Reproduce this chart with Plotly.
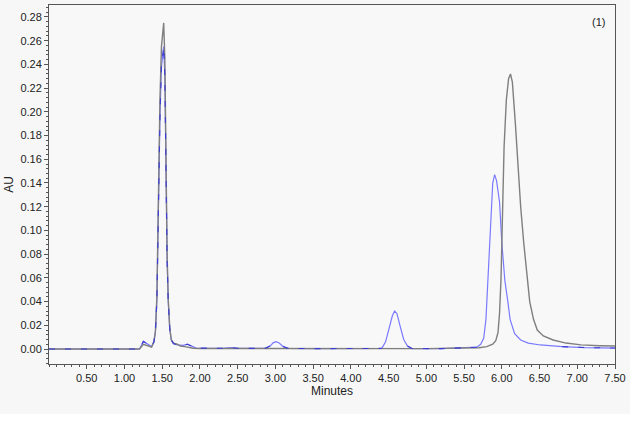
import numpy as np
import plotly.graph_objects as go

# grey trace (1st injection)
grey_t = [0.00, 1.20, 1.25, 1.30, 1.36, 1.39, 1.41, 1.43, 1.45, 1.47, 1.49, 1.51, 1.52,
          1.535, 1.55, 1.565, 1.58, 1.60, 1.62, 1.65, 1.70, 1.74, 1.80, 1.85, 1.91, 2.00,
          3.00, 4.00, 5.00, 5.70, 5.80, 5.88, 5.92, 5.95, 5.97, 5.99, 6.01, 6.03, 6.06,
          6.09, 6.115, 6.14, 6.18, 6.22, 6.25, 6.29, 6.33, 6.37, 6.42, 6.47, 6.55, 6.68,
          6.85, 7.05, 7.30, 7.50]
grey_v = [0.0000, 0.0000, 0.0040, 0.0030, 0.0015, 0.0060, 0.0150, 0.0450, 0.1300, 0.2100,
          0.2550, 0.2740, 0.2750, 0.2450, 0.1500, 0.0800, 0.0420, 0.0180, 0.0080, 0.0050,
          0.0040, 0.0025, 0.0020, 0.0015, 0.0006, 0.0004, 0.0004, 0.0003, 0.0003, 0.0010,
          0.0020, 0.0040, 0.0070, 0.0140, 0.0300, 0.0600, 0.1200, 0.1700, 0.2100, 0.2280,
          0.2320, 0.2250, 0.1900, 0.1500, 0.1200, 0.0900, 0.0630, 0.0400, 0.0250, 0.0160,
          0.0110, 0.0076, 0.0050, 0.0035, 0.0028, 0.0025]

# blue trace (2nd injection)
blue_t = [0.00, 1.20, 1.25, 1.30, 1.36, 1.39, 1.41, 1.43, 1.45, 1.47, 1.49, 1.51, 1.52,
          1.535, 1.55, 1.565, 1.58, 1.60, 1.62, 1.65, 1.70, 1.78, 1.834, 1.88, 1.95, 2.30,
          2.40, 2.50, 2.86, 2.93, 2.97, 3.007, 3.05, 3.10, 3.17, 3.50, 4.00, 4.41, 4.46,
          4.50, 4.55, 4.58, 4.61, 4.65, 4.70, 4.75, 4.81, 5.20, 5.60, 5.67, 5.72, 5.76,
          5.79, 5.81, 5.84, 5.862, 5.88, 5.905, 5.93, 5.95, 5.97, 6.00, 6.04, 6.08, 6.11,
          6.17, 6.25, 6.35, 6.51, 6.80, 7.10, 7.50]
blue_v = [0.0000, 0.0000, 0.0064, 0.0045, 0.0020, 0.0060, 0.0140, 0.0420, 0.1220, 0.1950,
          0.2380, 0.2540, 0.2550, 0.2300, 0.1420, 0.0760, 0.0400, 0.0170, 0.0075, 0.0045,
          0.0035, 0.0030, 0.0040, 0.0025, 0.0008, 0.0006, 0.0012, 0.0006, 0.0005, 0.0025,
          0.0052, 0.0062, 0.0050, 0.0022, 0.0005, 0.0003, 0.0003, 0.0005, 0.0060, 0.0160,
          0.0280, 0.0320, 0.0300, 0.0200, 0.0080, 0.0025, 0.0004, 0.0003, 0.0010, 0.0015,
          0.0040, 0.0090, 0.0250, 0.0500, 0.0950, 0.1260, 0.1400, 0.1470, 0.1420, 0.1330,
          0.1240, 0.0900, 0.0580, 0.0400, 0.0250, 0.0130, 0.0076, 0.0050, 0.0034, 0.0020,
          0.0012, 0.0008]

x_ticks = [0.5, 1.0, 1.5, 2.0, 2.5, 3.0, 3.5, 4.0, 4.5, 5.0, 5.5, 6.0, 6.5, 7.0, 7.5]
y_ticks = [0.00, 0.02, 0.04, 0.06, 0.08, 0.10, 0.12, 0.14, 0.16, 0.18, 0.20, 0.22, 0.24,
           0.26, 0.28]

# where the blue run lies under the grey one it shows only as dashes
grey_at_blue = np.interp(blue_t, grey_t, grey_v)
blue_dash_v = [v if abs(v - g) < 0.004 + 0.08 * g else None
               for v, g in zip(blue_v, grey_at_blue)]

AXIS = dict(
    showline=True, linecolor="#555555", linewidth=1, mirror=True,
    ticks="outside", ticklen=4, tickcolor="#555555",
    showgrid=False, zeroline=False,
    tickfont=dict(family="Liberation Sans, Arial, sans-serif", size=11, color="#222222"),
)

fig = go.Figure()
fig.add_trace(go.Scatter(x=blue_t, y=blue_v, mode="lines",
                         line=dict(color="#7a7aff", width=1.2), showlegend=False))
fig.add_trace(go.Scatter(x=grey_t, y=grey_v, mode="lines",
                         line=dict(color="#7f7f7f", width=1.4), showlegend=False))
fig.add_trace(go.Scatter(x=blue_t, y=blue_dash_v, mode="lines", connectgaps=False,
                         line=dict(color="#3c3cd0", width=1.1, dash="6px,10px"),
                         showlegend=False))

fig.add_annotation(x=0.985, y=0.975, xref="paper", yref="paper", text="(1)",
                   showarrow=False, xanchor="right", yanchor="top",
                   font=dict(family="Liberation Sans, Arial, sans-serif", size=11,
                             color="#222222"))

fig.update_layout(
    width=630, height=414,
    paper_bgcolor="#f7f7f7", plot_bgcolor="#f8f8f8",
    margin=dict(l=49, r=15, t=5, b=50),
    font=dict(family="Liberation Sans, Arial, sans-serif", size=12, color="#222222"),
)
fig.update_xaxes(**AXIS, range=[0, 7.5], tickvals=x_ticks,
                 ticktext=[f"{v:.2f}" for v in x_ticks],
                 minor=dict(ticks="outside", ticklen=2, dtick=0.1, tick0=0,
                            tickcolor="#555555"),
                 title=dict(text="Minutes", standoff=2, font=dict(size=12)))
fig.update_yaxes(**AXIS, range=[-0.01265, 0.2901], tickvals=y_ticks,
                 ticktext=[f"{v:.2f}" for v in y_ticks],
                 minor=dict(ticks="outside", ticklen=2, dtick=0.004, tick0=0,
                            tickcolor="#555555"),
                 title=dict(text="AU", standoff=4, font=dict(size=12)))

fig.write_html("out.html", config={"displayModeBar": False},
               post_script="document.body.style.margin = '0';")
